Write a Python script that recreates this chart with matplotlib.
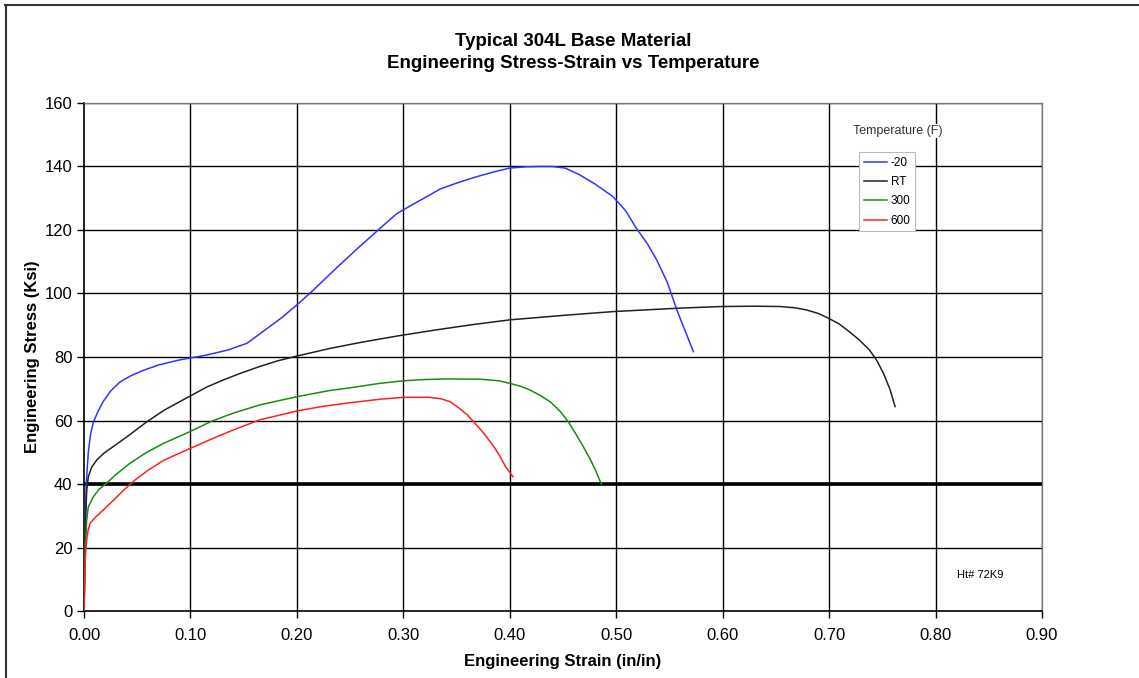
"""Typical 304L base material: engineering stress-strain curves vs temperature"""

import matplotlib
matplotlib.use('Agg')
import matplotlib.pyplot as plt
from matplotlib.lines import Line2D

plt.rcParams['font.family'] = ['Liberation Sans', 'DejaVu Sans']

# Curves: strain (in/in) and stress (ksi)
strain_m20 = [0.0, 0.0005, 0.001, 0.002, 0.004, 0.006, 0.0088, 0.013, 0.018, 0.025, 0.034, 0.044,
              0.055, 0.07, 0.09, 0.115, 0.135, 0.153, 0.168, 0.185, 0.2, 0.2155, 0.237, 0.258,
              0.278, 0.294, 0.315, 0.3346, 0.352, 0.369, 0.385, 0.40, 0.415, 0.4286, 0.44, 0.452,
              0.465, 0.48, 0.497, 0.509, 0.519, 0.529, 0.538, 0.548, 0.557, 0.565, 0.5725]
stress_m20 = [0.0, 10.0, 25.0, 40.0, 50.0, 55.5, 59.5, 62.8, 66.0, 69.3, 72.2, 74.1,
              75.7, 77.5, 79.1, 80.6, 82.2, 84.3, 88.0, 92.2, 96.4, 101.1, 108.0, 114.5,
              120.5, 125.2, 129.2, 132.9, 135.0, 136.8, 138.3, 139.5, 139.9, 140.0, 140.0, 139.5,
              137.5, 134.5, 130.5, 126.0, 120.5, 115.8, 110.6, 103.5, 94.8, 88.0, 81.7]

strain_rt = [0.0, 0.001, 0.0025, 0.004, 0.007, 0.012, 0.019, 0.0275, 0.04, 0.059, 0.075, 0.093,
             0.115, 0.131, 0.148, 0.165, 0.182, 0.2, 0.231, 0.26, 0.294, 0.33, 0.365, 0.40,
             0.45, 0.497, 0.56, 0.599, 0.63, 0.654, 0.668, 0.679, 0.69, 0.6995, 0.709, 0.717,
             0.728, 0.738, 0.745, 0.751, 0.757, 0.762]
stress_rt = [0.0, 25.0, 38.0, 42.3, 45.2, 47.6, 49.8, 51.8, 54.8, 59.6, 63.2, 66.5,
             70.5, 72.8, 75.0, 77.0, 78.8, 80.3, 82.7, 84.6, 86.6, 88.5, 90.2, 91.7,
             93.1, 94.3, 95.4, 95.9, 96.0, 95.9, 95.5, 94.8, 93.7, 92.2, 90.5, 88.5,
             85.5, 82.2, 78.8, 74.9, 70.0, 64.4]

strain_300 = [0.0, 0.001, 0.0025, 0.004, 0.0088, 0.014, 0.021, 0.03, 0.043, 0.058, 0.0746, 0.0996,
              0.12, 0.14, 0.165, 0.2, 0.23, 0.25, 0.278, 0.30, 0.32, 0.341, 0.372, 0.39, 0.40,
              0.41, 0.419, 0.428, 0.438, 0.447, 0.455, 0.462, 0.469, 0.476, 0.481, 0.486]
stress_300 = [0.0, 18.0, 28.7, 32.8, 36.0, 38.3, 40.2, 43.0, 46.5, 49.8, 52.8, 56.5,
              59.8, 62.3, 64.9, 67.5, 69.4, 70.3, 71.7, 72.5, 72.9, 73.1, 73.0, 72.5, 71.7,
              70.8, 69.6, 68.0, 65.9, 63.0, 59.6, 55.8, 51.8, 47.5, 44.0, 40.0]

strain_600 = [0.0, 0.0005, 0.001, 0.0018, 0.0025, 0.0038, 0.0056, 0.01, 0.018, 0.028, 0.038,
              0.048, 0.06, 0.075, 0.0996, 0.12, 0.14, 0.165, 0.2, 0.225, 0.25, 0.278, 0.30, 0.325,
              0.336, 0.344, 0.352, 0.36, 0.366, 0.376, 0.385, 0.391, 0.396, 0.403]
stress_600 = [0.0, 8.0, 15.0, 20.0, 22.4, 25.5, 27.6, 29.3, 31.8, 35.0, 38.3,
              41.3, 44.3, 47.5, 51.2, 54.2, 57.0, 60.2, 63.0, 64.5, 65.6, 66.7, 67.3, 67.3,
              66.8, 65.9, 64.0, 61.8, 59.6, 55.8, 51.8, 48.6, 45.5, 42.3]

series = [('-20', strain_m20, stress_m20, '#3333ff'),
          ('RT', strain_rt, stress_rt, '#222222'),
          ('300', strain_300, stress_300, '#1a8a1a'),
          ('600', strain_600, stress_600, '#ff2020')]

x_ticks = [0.0, 0.1, 0.2, 0.3, 0.4, 0.5, 0.6, 0.7, 0.8, 0.9]
y_ticks = [0, 20, 40, 60, 80, 100, 120, 140, 160]
min_stress = 40

fig = plt.figure(figsize=(11.39, 6.78), dpi=100)
ax = fig.add_axes([0.0738, 0.0988, 0.8410, 0.7493])

# Gridlines like the Excel chart
for xv in x_ticks[1:]:
    ax.axvline(xv, color='black', lw=1.0, zorder=1)
for yv in y_ticks[1:]:
    ax.axhline(yv, color='black', lw=1.0, zorder=1)
ax.axhline(min_stress, color='black', lw=2.6, zorder=2)

for name, xs, ys, col in series:
    ax.plot(xs, ys, color=col, lw=1.1, label=name, zorder=3)

ax.set_xlim(0, 0.9)
ax.set_ylim(0, 160)
ax.set_xticks(x_ticks)
ax.set_xticklabels(['%.2f' % v for v in x_ticks])
ax.set_yticks(y_ticks)
ax.tick_params(axis='both', labelsize=12, length=5, width=1, direction='out', colors='black')
ax.tick_params(axis='x', pad=7)
for side in ['left', 'bottom']:
    ax.spines[side].set_linewidth(1.2)
for side in ['top', 'right']:
    ax.spines[side].set_color('#777777')
    ax.spines[side].set_linewidth(0.9)

ax.set_xlabel('Engineering Strain (in/in)', fontsize=12, fontweight='bold', labelpad=8)
ax.set_ylabel('Engineering Stress (Ksi)', fontsize=12, fontweight='bold', labelpad=3)

fig.text(0.503, 0.939, 'Typical 304L Base Material', ha='center', va='center',
         fontsize=13.5, fontweight='bold')
fig.text(0.503, 0.906, 'Engineering Stress-Strain vs Temperature', ha='center', va='center',
         fontsize=13.5, fontweight='bold')

leg = ax.legend(loc='upper left', bbox_to_anchor=(0.809, 0.9035), fontsize=8.5,
                frameon=True, fancybox=False, handlelength=2.0, handletextpad=0.3,
                borderpad=0.4, labelspacing=0.62, borderaxespad=0)
leg.get_frame().set_edgecolor('#bbbbbb')
leg.get_frame().set_linewidth(0.8)
leg.get_frame().set_alpha(1)
ax.text(0.849, 0.945, 'Temperature (F)', transform=ax.transAxes, ha='center', va='center',
        fontsize=9, color='#333333', bbox=dict(facecolor='white', edgecolor='none', pad=1))
ax.text(0.935, 0.071, 'Ht# 72K9', transform=ax.transAxes, ha='center', va='center', fontsize=8)

# Page border lines at top and left
fig.add_artist(Line2D([0.004, 1.0], [0.993, 0.993], color='#333333', lw=1.5,
                      transform=fig.transFigure))
fig.add_artist(Line2D([0.0055, 0.0055], [0.0, 0.993], color='#333333', lw=1.5,
                      transform=fig.transFigure))

fig.savefig('out.png', dpi=100)
